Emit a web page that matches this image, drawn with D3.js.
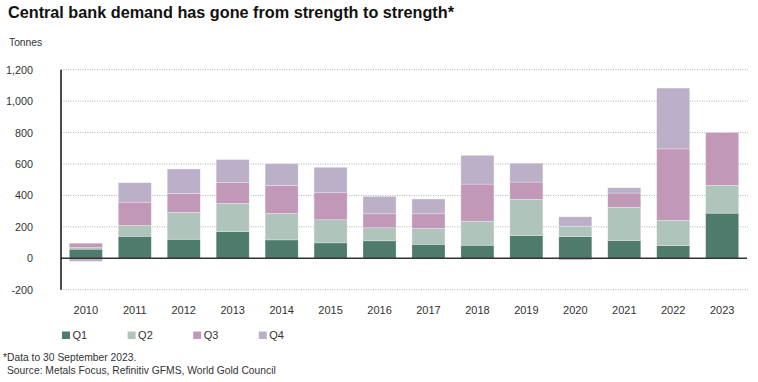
<!DOCTYPE html>
<html>
<head>
<meta charset="utf-8">
<script src="https://cdn.jsdelivr.net/npm/d3@7/dist/d3.min.js"></script>
<style>
  html, body { margin: 0; padding: 0; background: #fff; }
  svg { display: block; font-family: "Liberation Sans", Arial, sans-serif; }
</style>
</head>
<body>
<svg id="chart" width="758" height="382"></svg>
<script>
const years = ["2010","2011","2012","2013","2014","2015","2016","2017","2018","2019","2020","2021","2022","2023"];
const seriesNames = ["Q1","Q2","Q3","Q4"];
const q1 = [58, 140, 121, 170, 117, 98, 111, 89, 83, 145, 138, 113, 81, 287];
const q2 = [10, 69, 171, 179, 168, 147, 83, 101, 153, 230, 66, 211, 160, 177];
const q3 = [28, 148, 121, 132, 179, 172, 89, 93, 236, 110, -10, 91, 455, 336];
const q4 = [-20, 124, 155, 147, 138, 162, 111, 94, 183, 120, 60, 34, 387, 0];
const yTicks = [-200, 0, 200, 400, 600, 800, 1000, 1200];
const yTickLabels = ["-200", "0", "200", "400", "600", "800", "1,000", "1,200"];
const colors = ["#4e7b6b", "#afc4bb", "#c198b7", "#bcb0c9"];

const svg = d3.select("#chart");
const rows = years.map((y, i) => ({ year: y, Q1: q1[i], Q2: q2[i], Q3: q3[i], Q4: q4[i] }));

const x = d3.scaleBand().domain(years).range([61, 747]).paddingInner(0.325).paddingOuter(0.17);
const y = d3.scaleLinear().domain([-200, 1200]).range([289.7, 69.7]);
const color = d3.scaleOrdinal().domain(seriesNames).range(colors);

// Title
svg.append("text").attr("x", 8).attr("y", 18.3)
  .attr("font-size", 16.2).attr("font-weight", "bold").attr("fill", "#111")
  .attr("textLength", 446).attr("lengthAdjust", "spacingAndGlyphs")
  .text("Central bank demand has gone from strength to strength*");
svg.append("text").attr("x", 9).attr("y", 45.6)
  .attr("font-size", 10.3).attr("fill", "#333").text("Tonnes");

// Gridlines
svg.append("g").selectAll("line").data(yTicks.filter(t => t !== 0)).join("line")
  .attr("x1", 61).attr("x2", 748)
  .attr("y1", d => y(d)).attr("y2", d => y(d))
  .attr("stroke", "#9a9a9a").attr("stroke-width", 0.8).attr("stroke-dasharray", "1,1.4");

// Y axis labels
const yAxis = d3.axisLeft(y).tickValues(yTicks).tickSize(0).tickPadding(0)
  .tickFormat((d, i) => yTickLabels[i]);
const ya = svg.append("g").attr("transform", "translate(33,0)").call(yAxis);
ya.select(".domain").remove();
ya.selectAll("text").attr("font-size", 10.8).attr("fill", "#333")
  .attr("font-family", "Liberation Sans, Arial, sans-serif");

// Stacked bars
const stack = d3.stack().keys(seriesNames).offset(d3.stackOffsetDiverging);
const stacked = stack(rows);
svg.append("g").selectAll("g").data(stacked).join("g")
  .attr("fill", d => color(d.key))
  .selectAll("rect").data(d => d).join("rect")
  .attr("x", d => x(d.data.year))
  .attr("width", x.bandwidth())
  .attr("y", d => y(Math.max(d[0], d[1])))
  .attr("height", d => Math.abs(y(d[0]) - y(d[1])))
  .attr("stroke", "#ffffff").attr("stroke-opacity", 0.45).attr("stroke-width", 0.6);

// Zero line and left axis line
svg.append("line").attr("x1", 61).attr("x2", 747).attr("y1", y(0)).attr("y2", y(0))
  .attr("stroke", "#333").attr("stroke-width", 1.5);
svg.append("line").attr("x1", 61).attr("x2", 61).attr("y1", y(1200)).attr("y2", y(-200))
  .attr("stroke", "#111").attr("stroke-width", 1.5);

// X axis labels
const xAxis = d3.axisBottom(x).tickSize(0).tickPadding(0);
const xa = svg.append("g").attr("transform", "translate(0,306.5)").call(xAxis);
xa.select(".domain").remove();
xa.selectAll("text").attr("font-size", 11).attr("fill", "#333")
  .attr("font-family", "Liberation Sans, Arial, sans-serif");

// Legend
const lg = svg.append("g").selectAll("g").data(seriesNames).join("g")
  .attr("transform", (d, i) => `translate(${62 + i * 65.6},331.5)`);
lg.append("rect").attr("width", 8).attr("height", 7.5).attr("fill", d => color(d));
lg.append("text").attr("x", 10.5).attr("y", 7.8).attr("font-size", 11).attr("fill", "#333").text(d => d);

// Footnotes
svg.append("text").attr("x", 3).attr("y", 360.5).attr("font-size", 10.3).attr("fill", "#333")
  .text("*Data to 30 September 2023.");
svg.append("text").attr("x", 7).attr("y", 373.5).attr("font-size", 10.3).attr("fill", "#333")
  .text("Source: Metals Focus, Refinitiv GFMS, World Gold Council");
</script>
</body>
</html>
